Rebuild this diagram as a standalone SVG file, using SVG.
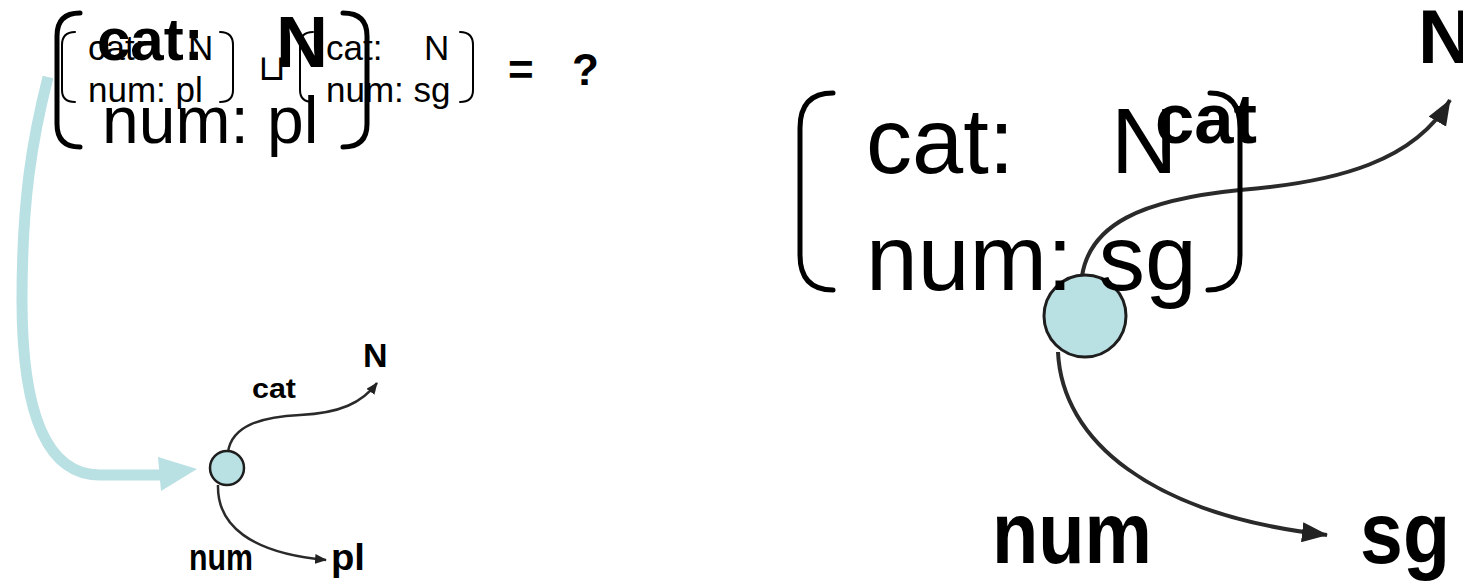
<svg xmlns="http://www.w3.org/2000/svg" width="1463" height="583" viewBox="0 0 1463 583">
<style>
.t{font-family:"Liberation Sans",Arial,sans-serif;fill:#000}
.b{font-weight:bold}
.s{font-size:35px}
.br{fill:none;stroke:#000;stroke-linecap:round}
.edge{fill:none;stroke:#2a2a2a}
.node{fill:#b9e0e3;stroke:#1e1e1e}
</style>
<defs>
<marker id="ahS" markerUnits="userSpaceOnUse" markerWidth="12" markerHeight="10" refX="11" refY="5" orient="auto"><path d="M0,0 L12,5 L0,10 Z" fill="#222"/></marker>
<marker id="ahL" markerUnits="userSpaceOnUse" markerWidth="26" markerHeight="20" refX="25" refY="10" orient="auto"><path d="M0,0 L26,10 L0,20 Z" fill="#222"/></marker>
</defs>
<rect width="1463" height="583" fill="#fff"/>

<g id="connectors">
  <path id="move-arrow" d="M48,77 C32,140 22,200 22,300 C22,410 45,475 100,475 L162,475" fill="none" stroke="#b9e0e3" stroke-width="11"/>
  <polygon points="158,457 197,469 161,491" fill="#b9e0e3"/>
  <path class="edge" d="M228,452 C232,425 262,417 300,415 C340,413 362,403 377,383" stroke-width="2.5" marker-end="url(#ahS)"/>
  <path class="edge" d="M218,485 C217,525 250,553 326,560" stroke-width="2.5" marker-end="url(#ahS)"/>
  <path class="edge" d="M1082,276 C1090,225 1140,200 1240,190 C1340,182 1415,160 1450,100" stroke-width="4" marker-end="url(#ahL)"/>
  <path class="edge" d="M1058,352 C1062,440 1150,515 1327,535" stroke-width="4" marker-end="url(#ahL)"/>
</g>

<g id="node-left">
  <circle class="node" cx="227" cy="468" r="17" stroke-width="2.5"/>
</g>
<g id="label-left">
  <text class="t b" x="252" y="398" font-size="27" textLength="44" lengthAdjust="spacingAndGlyphs">cat</text>
  <text class="t b" x="363" y="367" font-size="34">N</text>
  <text class="t b" x="189" y="570" font-size="36" textLength="64" lengthAdjust="spacingAndGlyphs">num</text>
  <text class="t b" x="331" y="570" font-size="36" textLength="34" lengthAdjust="spacingAndGlyphs">pl</text>
</g>

<g id="node-right">
  <circle class="node" cx="1085" cy="316" r="41" stroke-width="3"/>
</g>
<g id="label-right">
  <text class="t b" x="992" y="563" font-size="88" textLength="160" lengthAdjust="spacingAndGlyphs">num</text>
  <text class="t b" x="1360" y="563" font-size="88" textLength="90" lengthAdjust="spacingAndGlyphs">sg</text>
  <text class="t b" x="1418" y="63" font-size="76">N</text>
</g>

<g id="matrix-left-small">
  <path class="br" d="M75,32 Q62,32 62,45 L62,90 Q62,102 75,102" stroke-width="2"/>
  <path class="br" d="M220,32 Q233,32 233,45 L233,90 Q233,102 220,102" stroke-width="2"/>
  <text class="t s" x="88" y="60">cat:</text>
  <text class="t s" x="188" y="60">N</text>
  <text class="t s" x="88" y="102">num: pl</text>
</g>

<g id="unify">
  <text class="t" x="258" y="80" font-size="36" style="font-family:'DejaVu Sans',sans-serif">⊔</text>
</g>

<g id="matrix-left-big">
  <path class="br" d="M80,13 Q57,13 57,36 L57,124 Q57,147 80,147" stroke-width="5"/>
  <path class="br" d="M343,13 Q367,13 367,36 L367,124 Q367,147 343,147" stroke-width="5"/>
  <text class="t b" x="97" y="60" font-size="60">cat:</text>
  <text class="t b" x="276" y="67" font-size="72">N</text>
  <text class="t" x="102" y="143" font-size="66">num: pl</text>
</g>

<g id="matrix-right-small">
  <path class="br" d="M313,32 Q300,32 300,45 L300,90 Q300,102 313,102" stroke-width="2"/>
  <path class="br" d="M460,32 Q473,32 473,45 L473,90 Q473,102 460,102" stroke-width="2"/>
  <text class="t s" x="326" y="60">cat:</text>
  <text class="t s" x="424" y="60">N</text>
  <text class="t s" x="326" y="102">num: sg</text>
</g>

<g id="equals">
  <text class="t b" x="508" y="85" font-size="44">=</text>
  <text class="t b" x="572" y="85" font-size="44">?</text>
</g>

<g id="matrix-right-big">
  <path class="br" d="M833,93 Q800,93 800,128 L800,255 Q800,290 833,290" stroke-width="5"/>
  <path class="br" d="M1210,93 Q1240,93 1240,128 L1240,255 Q1240,290 1208,290" stroke-width="5"/>
  <text class="t" x="866" y="173" font-size="92">cat:</text>
  <text class="t" x="1111" y="173" font-size="92">N</text>
  <text class="t" x="866" y="290" font-size="93">num: sg</text>
  <text class="t b" x="1155" y="143" font-size="70" textLength="102" lengthAdjust="spacingAndGlyphs">cat</text>
</g>
</svg>
